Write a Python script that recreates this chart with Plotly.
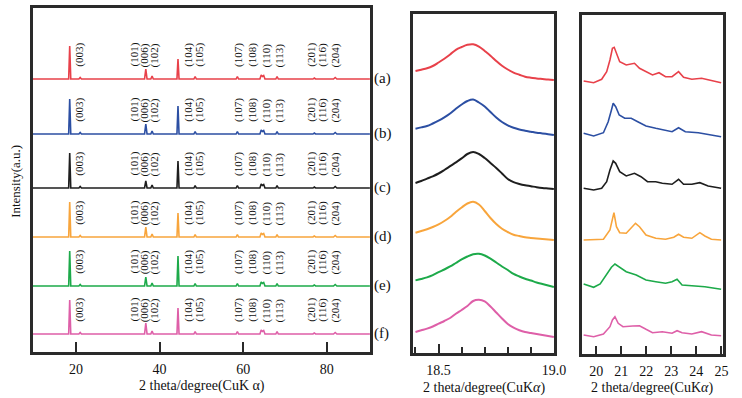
import plotly.graph_objects as go

FONT = "Liberation Serif, Times New Roman, serif"

samples = ["(a)", "(b)", "(c)", "(d)", "(e)", "(f)"]
colors = ["#E8414A", "#2C4FA3", "#1E1E1E", "#F8A53C", "#1DAA4A", "#DE5FA8"]

# ---------- full pattern (left panel) ----------
full_offsets = [273, 218, 164, 115, 66, 18]
full_x = [9.7, 18.25, 18.5, 18.75, 20.7, 21.0, 21.3, 36.4, 36.7, 37.0, 37.9, 38.2, 38.5,
          44.15, 44.4, 44.65, 48.2, 48.5, 48.8, 58.3, 58.6, 58.9, 64.0, 64.3, 64.6, 64.9,
          65.2, 67.8, 68.1, 68.4, 76.7, 77.0, 77.3, 81.6, 82.0, 82.4, 90.3]
full_a = [0, 0, 33, 0, 0, 1.5, 0, 0, 10, 0, 0, 3, 0, 0, 20, 0, 0, 2.5, 0, 0, 2.5, 0, 0, 4, 2.5, 3.5, 0, 0, 2.5, 0, 0, 1, 0, 0, 1.5, 0, 0]
full_b = [0, 0, 35, 0, 0, 1.5, 0, 0, 10, 0, 0, 3, 0, 0, 28, 0, 0, 2.5, 0, 0, 2.5, 0, 0, 4, 2.5, 3.5, 0, 0, 2.5, 0, 0, 1, 0, 0, 1.5, 0, 0]
full_c = [0, 0, 35, 0, 0, 1.5, 0, 0, 7, 0, 0, 3, 0, 0, 27, 0, 0, 2.5, 0, 0, 2.5, 0, 0, 4, 2.5, 3.5, 0, 0, 2.5, 0, 0, 1, 0, 0, 1.5, 0, 0]
full_d = [0, 0, 35, 0, 0, 1.5, 0, 0, 10, 0, 0, 3, 0, 0, 24, 0, 0, 2.5, 0, 0, 2.5, 0, 0, 4, 2.5, 3.5, 0, 0, 2.5, 0, 0, 1, 0, 0, 1.5, 0, 0]
full_e = [0, 0, 35, 0, 0, 1.5, 0, 0, 9, 0, 0, 3, 0, 0, 30, 0, 0, 2.5, 0, 0, 2.5, 0, 0, 4, 2.5, 3.5, 0, 0, 2.5, 0, 0, 1, 0, 0, 1.5, 0, 0]
full_f = [0, 0, 34, 0, 0, 1.5, 0, 0, 11, 0, 0, 3, 0, 0, 26, 0, 0, 2.5, 0, 0, 2.5, 0, 0, 4, 2.5, 3.5, 0, 0, 2.5, 0, 0, 1, 0, 0, 1.5, 0, 0]
full_y = [full_a, full_b, full_c, full_d, full_e, full_f]

hkl_labels = ["(003)", "(101)", "(006)", "(102)", "(104)", "(105)", "(107)",
              "(108)", "(110)", "(113)", "(201)", "(116)", "(204)"]
hkl_pos = [20.9, 34.0, 36.6, 39.0, 47.0, 49.6, 59.0, 62.3, 65.8, 68.9, 76.4, 79.0, 82.3]

# ---------- (003) zoom (middle panel) ----------
z1_offsets = [273, 218, 164, 113, 66, 16]
z1_x = [18.400, 18.425, 18.450, 18.475, 18.500, 18.525, 18.550, 18.575, 18.600, 18.625,
        18.650, 18.675, 18.700, 18.725, 18.750, 18.775, 18.800, 18.825, 18.850, 18.875,
        18.900, 18.925, 18.950, 18.975, 19.000]
z1_a = [9, 10.3, 11.7, 14, 17.5, 21.3, 25.5, 30.2, 33, 35.2, 35.7, 33.5, 29, 24.3, 19, 14.2,
        10.5, 7.4, 5.3, 3.3, 2.3, 1.6, 1, 0.4, 0]
z1_b = [6.3, 7.6, 9, 11.5, 14.3, 17.6, 21.5, 26.3, 30.5, 34, 35.5, 32.5, 28.5, 23, 17.5, 13,
        9.7, 7.2, 5.5, 4.3, 3.3, 2.3, 1.6, 0.8, 0]
z1_c = [6, 8, 10.4, 12.7, 15.5, 19, 22.8, 26.6, 30.6, 35, 37, 35, 31, 26, 21, 15.5, 10, 6.8,
        5, 3.7, 2.8, 1.8, 1, 0.5, 0]
z1_d = [7.3, 9, 10.7, 13, 15.7, 19, 23, 28, 32.5, 36.5, 38.2, 35.5, 29, 22, 16, 11.3, 8, 5.3,
        4, 2.7, 2, 1.4, 1, 0.5, 0]
z1_e = [6.6, 8, 9.6, 11.8, 14.8, 17.5, 20.5, 24, 27.5, 30.5, 32.8, 33.2, 31.5, 28.3, 24.5,
        20.5, 17, 13, 10.5, 8.3, 6.5, 4.5, 3, 1.5, 0]
z1_f = [5, 6.7, 8.4, 10.5, 13.3, 16, 19, 23.2, 27, 31, 36, 37.2, 35.5, 30.5, 24.5, 18.5, 13,
        9.3, 6.8, 5, 4, 3, 2, 1, 0]
z1_y = [z1_a, z1_b, z1_c, z1_d, z1_e, z1_f]

# ---------- 20-25 deg zoom (right panel), stacked intensity ----------
z2_xa = [19.50, 19.90, 20.22, 20.42, 20.55, 20.65, 20.72, 20.81, 20.94, 21.20, 21.53, 21.73,
         21.99, 22.25, 22.51, 22.77, 23.03, 23.29, 23.49, 23.82, 24.21, 24.47, 24.99]
z2_ya = [273, 271.3, 274.7, 282.3, 294, 305.7, 306.7, 300.7, 292.3, 289, 290.7, 285.7, 282.3,
         279, 281.3, 277.3, 277.3, 282.3, 276.7, 274.7, 275.7, 274, 271.3]
z2_xb = [19.50, 19.90, 20.29, 20.48, 20.61, 20.68, 20.78, 20.92, 21.14, 21.40, 21.66, 21.99,
         22.38, 22.77, 23.03, 23.29, 23.56, 24.08, 24.60, 24.99]
z2_yb = [220.7, 218, 221.3, 232.3, 244, 250.7, 247.3, 239, 235.7, 235.7, 232.3, 228, 225.7,
         223.3, 222.3, 226.3, 222.3, 221.3, 219, 217.3]
z2_xc = [19.50, 19.90, 20.22, 20.42, 20.55, 20.68, 20.78, 20.94, 21.20, 21.53, 21.79, 22.05,
         22.38, 22.64, 23.03, 23.29, 23.49, 23.82, 24.14, 24.47, 24.99]
z2_yc = [165.7, 164, 165.7, 172.3, 184, 193, 190.7, 182.3, 178, 180.7, 177.3, 172.3, 172.3,
         170.7, 169.7, 174.7, 169.7, 169.7, 171.3, 168, 165.7]
z2_xd = [19.50, 19.90, 20.29, 20.55, 20.65, 20.71, 20.81, 20.94, 21.20, 21.40, 21.57, 21.73,
         21.99, 22.38, 22.77, 23.10, 23.29, 23.49, 23.82, 24.14, 24.34, 24.60, 24.99]
z2_yd = [114, 114, 114.7, 124, 137.3, 141.3, 127.3, 121.3, 120.7, 125.7, 130.7, 127.3, 119,
         115.7, 114.7, 116.7, 119.7, 116.7, 115.7, 121.3, 118, 114.7, 114]
z2_xe = [19.50, 19.90, 20.16, 20.42, 20.61, 20.75, 20.94, 21.20, 21.60, 21.99, 22.38, 22.77,
         23.03, 23.23, 23.43, 23.82, 24.34, 24.99]
z2_ye = [70, 66.7, 70, 79, 86.7, 90, 86.7, 82.3, 79, 74, 72.3, 70.7, 72.3, 74.7, 69, 68,
         67.3, 64.7]
z2_xf = [19.50, 19.90, 20.29, 20.55, 20.65, 20.75, 20.88, 21.07, 21.46, 21.73, 21.99, 22.25,
         22.64, 23.03, 23.23, 23.43, 23.82, 24.21, 24.60, 24.99]
z2_yf = [19, 17.3, 20, 27.3, 34, 37.3, 30.7, 27.3, 28, 28.3, 24.7, 21.3, 22.3, 20.7, 23.3,
         21.3, 20, 22.3, 19, 18.3]
z2_xs = [z2_xa, z2_xb, z2_xc, z2_xd, z2_xe, z2_xf]
z2_ys = [z2_ya, z2_yb, z2_yc, z2_yd, z2_ye, z2_yf]

fig = go.Figure()
for i in range(6):
    fig.add_trace(go.Scatter(x=full_x, y=[v + full_offsets[i] for v in full_y[i]],
                             mode="lines", line=dict(color=colors[i], width=1.6),
                             xaxis="x", yaxis="y", showlegend=False))
    fig.add_trace(go.Scatter(x=z1_x, y=[v + z1_offsets[i] for v in z1_y[i]],
                             mode="lines", line=dict(color=colors[i], width=2, shape="spline"),
                             xaxis="x2", yaxis="y2", showlegend=False))
    fig.add_trace(go.Scatter(x=z2_xs[i], y=z2_ys[i],
                             mode="lines", line=dict(color=colors[i], width=1.6),
                             xaxis="x3", yaxis="y3", showlegend=False))

annotations = []
for i in range(6):
    for lab, pos in zip(hkl_labels, hkl_pos):
        annotations.append(dict(x=pos, y=full_offsets[i] + 24, xref="x", yref="y",
                                text=lab, textangle=-90, showarrow=False,
                                xanchor="center", yanchor="middle",
                                font=dict(family=FONT, size=11, color="#111")))
    annotations.append(dict(x=0.5095, y=full_offsets[i], xref="paper", yref="y",
                            text=samples[i], xanchor="left", yanchor="middle",
                            showarrow=False,
                            font=dict(family=FONT, size=15, color="#111")))

title_font = dict(family=FONT, size=14, color="#111")
annotations += [
    dict(x=0.2763, y=0.031, xref="paper", yref="paper", text="2 theta/degree(CuK α)",
         xanchor="center", yanchor="middle", showarrow=False, font=title_font),
    dict(x=0.663, y=0.024, xref="paper", yref="paper", text="2 theta/degree(CuK<i>α</i>)",
         xanchor="center", yanchor="middle", showarrow=False, font=title_font),
    dict(x=0.8935, y=0.024, xref="paper", yref="paper", text="2 theta/degree(CuK<i>α</i>)",
         xanchor="center", yanchor="middle", showarrow=False, font=title_font),
    dict(x=0.0202, y=0.545, xref="paper", yref="paper", text="Intensity(a.u.)",
         textangle=-90, xanchor="center", yanchor="middle", showarrow=False,
         font=dict(family=FONT, size=13, color="#111")),
]

def axis_common(lw):
    return dict(showline=True, linewidth=lw, linecolor="#2a2a2a", mirror=True,
                showgrid=False, zeroline=False)

xtick_common = dict(ticks="inside", tickwidth=2, tickcolor="#2a2a2a",
                    tickfont=dict(family=FONT, size=14, color="#111"), ticklabelstandoff=2)

def yax(lw):
    return dict(showticklabels=False, ticks="", **axis_common(lw))

fig.update_layout(
    width=742, height=398, margin=dict(l=0, r=0, t=0, b=0),
    paper_bgcolor="white", plot_bgcolor="white",
    xaxis=dict(domain=[0.0451, 0.5067], range=[9.7, 90.3], tickvals=[20, 40, 60, 80],
               ticklen=10, anchor="y", **axis_common(3), **xtick_common),
    yaxis=dict(domain=[0.1156, 0.9799], range=[0, 344], anchor="x", **yax(3)),
    xaxis2=dict(domain=[0.566, 0.7588], range=[18.39, 19.0], tick0=18.5, dtick=0.5,
                tickformat=".1f", ticklen=9, anchor="y2",
                minor=dict(ticks="inside", ticklen=6, tickwidth=1.5, tickcolor="#2a2a2a",
                           tick0=18.4, dtick=0.1),
                **axis_common(2.5), **xtick_common),
    yaxis2=dict(domain=[0.1131, 0.9648], range=[0, 339], anchor="x2", **yax(2.5)),
    xaxis3=dict(domain=[0.7978, 0.9906], range=[19.45, 25.07], tick0=20, dtick=1,
                ticklen=8, anchor="y3", **axis_common(2.5), **xtick_common),
    yaxis3=dict(domain=[0.1106, 0.9623], range=[0, 339], anchor="x3", **yax(2.5)),
    annotations=annotations,
)

fig.write_html("out.html")
